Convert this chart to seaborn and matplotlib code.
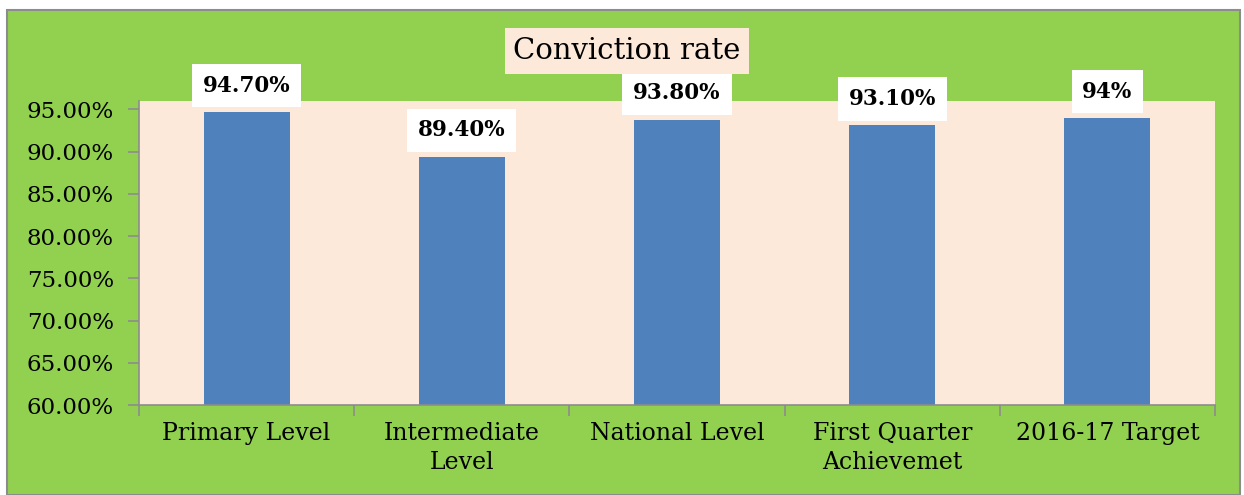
import matplotlib
matplotlib.use("Agg")
import matplotlib.pyplot as plt
import matplotlib.patches as mpatches
from matplotlib.ticker import PercentFormatter, FixedLocator
import seaborn as sns
import pandas as pd

# chart data
categories = ["Primary Level", "Intermediate\nLevel", "National Level",
              "First Quarter\nAchievemet", "2016-17 Target"]
rates = [0.947, 0.894, 0.938, 0.931, 0.94]
value_labels = ["94.70%", "89.40%", "93.80%", "93.10%", "94%"]

green = "#92D050"
peach = "#FDE9D9"
blue = "#4F81BD"
grey = "#8C8C8C"

sns.set_style("white")
plt.rcParams["font.family"] = ["DejaVu Serif"]
plt.rcParams["text.color"] = "black"
plt.rcParams["xtick.color"] = "black"
plt.rcParams["ytick.color"] = "black"

df = pd.DataFrame({"category": categories, "rate": rates})

fig = plt.figure(figsize=(12.44, 4.95), dpi=100, facecolor="white")
# green chart area with grey border, kept behind the axes
bg = mpatches.Rectangle((7 / 1244, 0), 1233 / 1244, 485 / 495,
                        transform=fig.transFigure, facecolor=green,
                        edgecolor=grey, linewidth=1.5, zorder=-10)
fig.patches.append(bg)

ax = fig.add_axes([139 / 1244, 1 - 405 / 495, 1076 / 1244, 304 / 495])
ax.set_facecolor(peach)

sns.barplot(data=df, x="category", y="rate", color=blue, width=0.4,
            saturation=1, linewidth=0, ax=ax)

ax.set_ylim(0.60, 0.96)
ax.set_xlim(-0.5, len(categories) - 0.5)
ax.yaxis.set_major_locator(FixedLocator([0.60 + 0.05 * i for i in range(8)]))
ax.yaxis.set_major_formatter(PercentFormatter(1.0, decimals=2))
ax.set_xlabel("")
ax.set_ylabel("")

for side in ["top", "right"]:
    ax.spines[side].set_visible(False)
for side in ["left", "bottom"]:
    ax.spines[side].set_color(grey)
    ax.spines[side].set_linewidth(1.2)

ax.tick_params(axis="y", which="major", left=True, length=8, color=grey,
               width=1.2, labelsize=16.5, labelcolor="black", pad=10)
ax.tick_params(axis="x", which="major", length=0, labelsize=17,
               labelcolor="black", pad=12)
for t in ax.get_xticklabels():
    t.set_linespacing(1.35)
ax.set_xticks([i - 0.5 for i in range(len(categories) + 1)], minor=True)
ax.tick_params(axis="x", which="minor", bottom=True, length=8, color=grey, width=1.2)

# value labels in white boxes
for i, (v, lab) in enumerate(zip(rates, value_labels)):
    ax.annotate(lab, (i, v), xytext=(0, 19), textcoords="offset points",
                ha="center", va="center", fontsize=15.5, fontweight="bold",
                color="black",
                bbox=dict(boxstyle="square,pad=0.5", facecolor="white",
                          edgecolor="none"),
                annotation_clip=False)

fig.text(627 / 1244, 1 - 51 / 495, "Conviction rate", ha="center", va="center",
         fontsize=21, color="black",
         bbox=dict(boxstyle="square,pad=0.3", facecolor=peach, edgecolor="none"))

fig.savefig("out.png", dpi=100, facecolor="white")
